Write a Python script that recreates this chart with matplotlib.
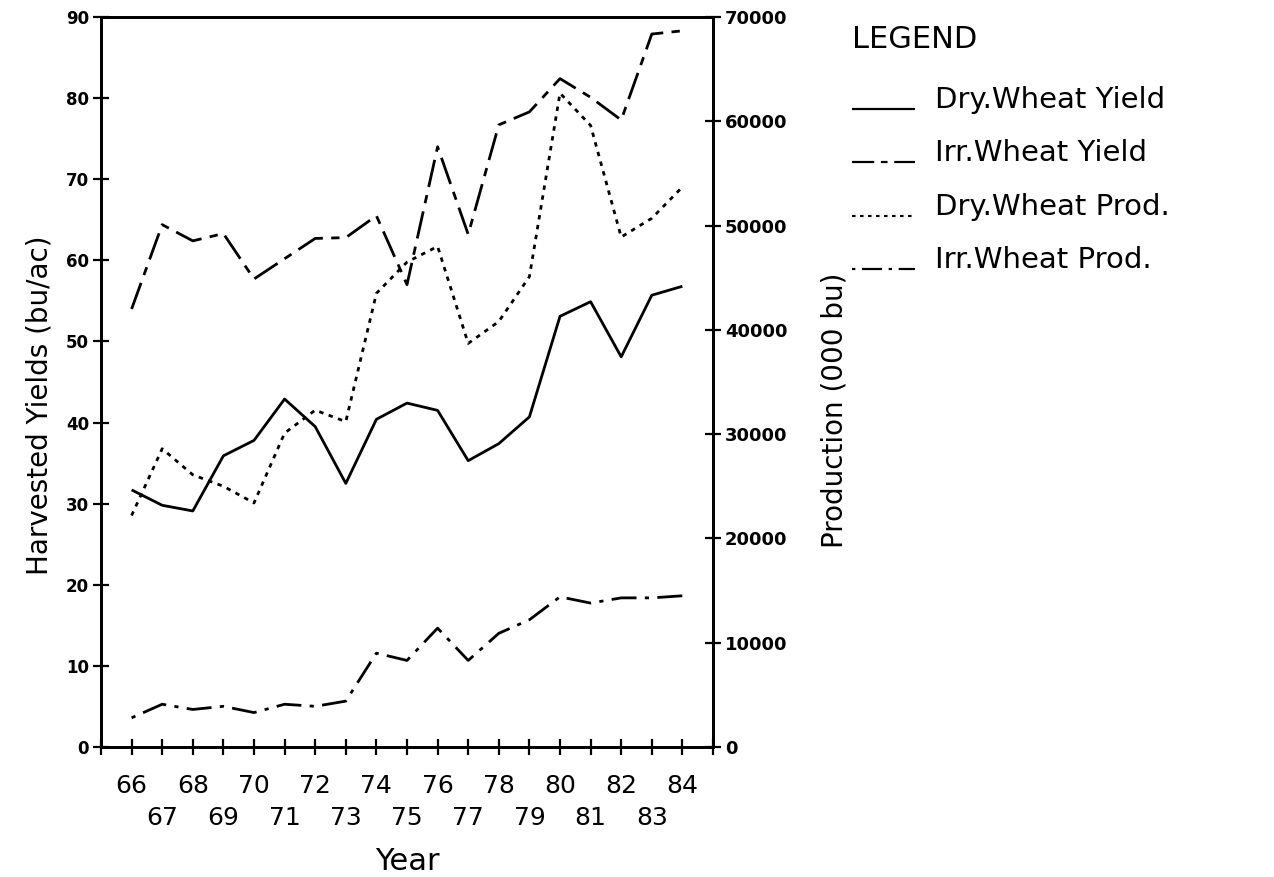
import matplotlib
matplotlib.use("Agg")
import matplotlib.pyplot as plt
from matplotlib.lines import Line2D

# values
years = [66, 67, 68, 69, 70, 71, 72, 73, 74, 75, 76, 77, 78, 79, 80, 81, 82, 83, 84]
dry_yield = [31.7, 29.8, 29.1, 35.9, 37.8, 42.9, 39.5, 32.5, 40.4, 42.4,
             41.5, 35.3, 37.4, 40.7, 53.1, 54.9, 48.1, 55.7, 56.8]
irr_yield = [54.0, 64.4, 62.4, 63.3, 57.7, 60.2, 62.7, 62.8, 65.5, 57.0,
             74.0, 63.2, 76.7, 78.3, 82.4, 80.1, 77.3, 87.9, 88.3]
dry_prod = [22200, 28600, 26100, 25000, 23400, 30100, 32300, 31200, 43500, 46500,
            48000, 38700, 40800, 45100, 62700, 59600, 48900, 50700, 53700]
irr_prod = [2800, 4100, 3600, 3900, 3300, 4100, 3900, 4400, 9000, 8300,
            11400, 8300, 10900, 12200, 14400, 13800, 14300, 14300, 14500]

labels = ["Dry.Wheat Yield", "Irr.Wheat Yield", "Dry.Wheat Prod.", "Irr.Wheat Prod."]
yield_ticks = list(range(0, 100, 10))
prod_ticks = list(range(0, 80000, 10000))

W, H = 1274, 877
LW = 2.0
DASHES = {
    "dry_yield": None,
    "irr_yield": (10, 3, 3, 3),
    "dry_prod": (1.6, 2.0),
    "irr_prod": (1.5, 3, 9, 3),
}

plt.rcParams["font.family"] = "DejaVu Sans"

fig = plt.figure(figsize=(W / 100, H / 100), dpi=100)
ax = fig.add_axes([101 / W, 1 - 747 / H, (713 - 101) / W, (747 - 17) / H])
ax2 = ax.twinx()


def draw(axis, x, y, key):
    line, = axis.plot(x, y, color="black", lw=LW, solid_capstyle="butt")
    if DASHES[key] is not None:
        line.set_dashes(DASHES[key])
    return line


draw(ax, years, dry_yield, "dry_yield")
draw(ax, years, irr_yield, "irr_yield")
draw(ax2, years, dry_prod, "dry_prod")
draw(ax2, years, irr_prod, "irr_prod")

ax.set_xlim(65, 85)
ax.set_ylim(0, 90)
ax2.set_ylim(0, 70000)

# two rows of year labels: even years on top, odd years below
ax.set_xticks(range(66, 85, 2), [str(y) for y in range(66, 85, 2)])
ax.set_xticks(range(65, 86, 2), [str(y) if 65 < y < 85 else "" for y in range(65, 86, 2)], minor=True)
ax.tick_params(axis="x", which="both", direction="inout", length=11, width=1.6,
               labelsize=18)
ax.tick_params(axis="x", which="major", pad=14)
ax.tick_params(axis="x", which="minor", pad=37)

ax.set_yticks(yield_ticks)
ax.tick_params(axis="y", direction="inout", length=11, width=1.6, labelsize=12, pad=3)
for t in ax.get_yticklabels():
    t.set_fontweight("bold")

ax2.set_yticks(prod_ticks)
ax2.tick_params(axis="y", direction="inout", length=11, width=1.6, labelsize=13, pad=3)
for t in ax2.get_yticklabels():
    t.set_fontweight("bold")

for a in (ax, ax2):
    for s in a.spines.values():
        s.set_linewidth(2.0)

fig.text(40 / W, 1 - 405 / H, "Harvested Yields (bu/ac)", rotation=90,
         ha="center", va="center", fontsize=20)
fig.text(834 / W, 1 - 410 / H, "Production (000 bu)", rotation=90,
         ha="center", va="center", fontsize=20)
fig.text(407 / W, 1 - 862 / H, "Year", ha="center", va="center", fontsize=22)

# hand-drawn legend block to the right of the plot
fig.text(852 / W, 1 - 40 / H, "LEGEND", ha="left", va="center", fontsize=22)
entry_y = [100, 153, 207, 260]
keys = ["dry_yield", "irr_yield", "dry_prod", "irr_prod"]
for key, lab, y in zip(keys, labels, entry_y):
    yy = 1 - (y + 9) / H
    ln = Line2D([852 / W, 915 / W], [yy, yy], transform=fig.transFigure,
                color="black", lw=1.6, solid_capstyle="butt")
    if DASHES[key] is not None:
        ln.set_dashes(DASHES[key])
    fig.add_artist(ln)
    fig.text(935 / W, 1 - y / H, lab, ha="left", va="center", fontsize=21)

fig.savefig("out.png", dpi=100)
